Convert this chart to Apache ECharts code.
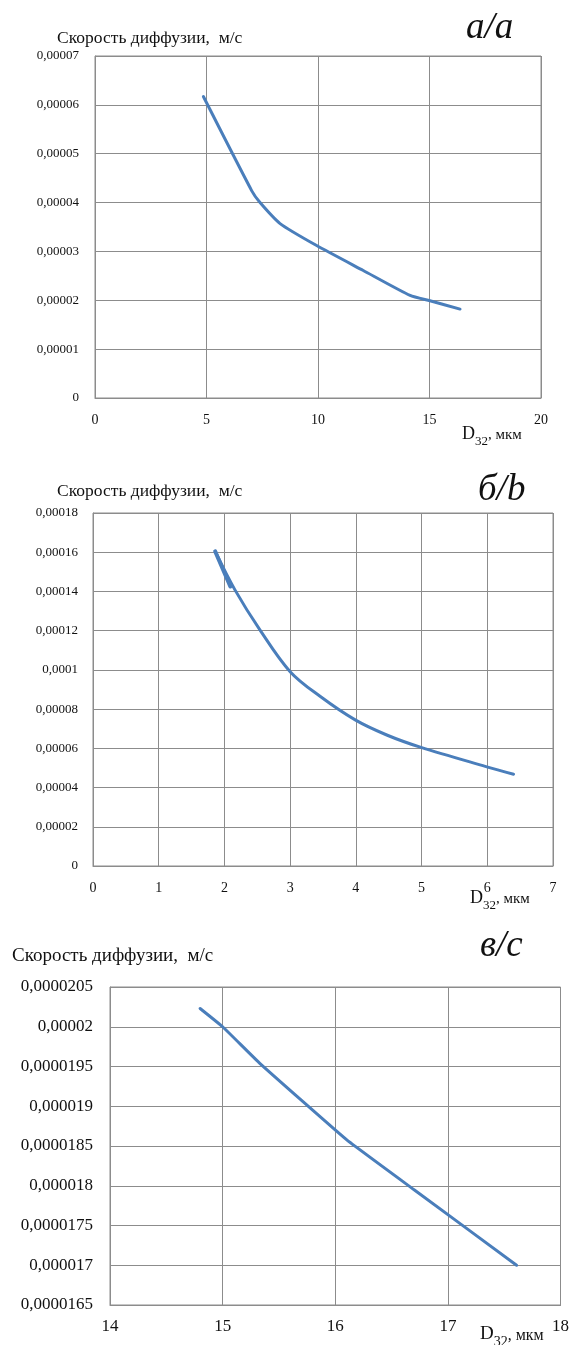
<!DOCTYPE html>
<html>
<head>
<meta charset="utf-8">
<script src="https://cdn.jsdelivr.net/npm/echarts@6/dist/echarts.min.js"></script>
<style>
  html, body { margin: 0; padding: 0; background: #fff; }
  #chart { width: 572px; height: 1345px; }
</style>
</head>
<body>
<div id="chart"></div>
<script>
// Panel а: diffusion rate vs Sauter diameter D32 (0–20 µm)
const xA = [4.86, 7.03, 7.4, 8.3, 9.94, 12.03, 14.13, 15.02, 16.37];
const yA = [0.0000617, 0.0000424, 0.00004, 0.0000357, 0.0000312, 0.0000261, 0.000021, 0.0000199, 0.0000182];
const yTicksA = ['0', '0,00001', '0,00002', '0,00003', '0,00004', '0,00005', '0,00006', '0,00007'];

// Panel б: D32 in 0–7 µm (main curve plus the short overlapping start segment)
const xB = [1.86, 2.16, 2.54, 3.0, 3.46, 3.99, 4.47, 4.98, 5.98, 6.40];
const yB = [0.0001604, 0.0001408, 0.0001204, 0.0000991, 0.0000864, 0.0000745, 0.0000668, 0.0000606, 0.0000507, 0.0000468];
const xB2 = [1.86, 2.09];
const yB2 = [0.0001604, 0.0001425];
const yTicksB = ['0', '0,00002', '0,00004', '0,00006', '0,00008', '0,0001', '0,00012', '0,00014', '0,00016', '0,00018'];

// Panel в: D32 in 14–18 µm
const xC = [14.8, 15.0, 15.33, 16.1, 16.7, 17.61];
const yC = [0.00002023, 0.00002, 0.00001954, 0.00001858, 0.00001795, 0.000017];
const yTicksC = ['0,0000165', '0,000017', '0,0000175', '0,000018', '0,0000185', '0,000019', '0,0000195', '0,00002', '0,0000205'];

const yTitle = 'Скорость диффузии,  м/с';
const panelTags = ['а/a', 'б/b', 'в/c'];

const serif = '"Liberation Serif", "Times New Roman", serif';
const gridColor = '#8c8c8c';
const lineColor = '#4a7ebb';

function pairs(xs, ys) { return xs.map((x, i) => [x, ys[i]]); }

function xAxisCfg(gridIndex, min, max, interval, fs, margin) {
  return {
    type: 'value', gridIndex, min, max, interval,
    axisLine: { show: true, lineStyle: { color: gridColor } },
    axisTick: { show: false },
    splitLine: { show: true, lineStyle: { color: gridColor, width: 1 } },
    axisLabel: { color: '#111', fontFamily: serif, fontSize: fs, margin, showMaxLabel: true, showMinLabel: true }
  };
}
function yAxisCfg(gridIndex, min, max, interval, labels, fs, margin) {
  return {
    type: 'value', gridIndex, min, max, interval,
    axisLine: { show: true, lineStyle: { color: gridColor } },
    axisTick: { show: false },
    splitLine: { show: true, lineStyle: { color: gridColor, width: 1 } },
    axisLabel: {
      color: '#111', fontFamily: serif, fontSize: fs, margin,
      formatter: (v, i) => labels[i] !== undefined ? labels[i] : ''
    }
  };
}
function lineSeries(idx, data, smooth, width) {
  return {
    type: 'line', xAxisIndex: idx, yAxisIndex: idx, data, smooth,
    showSymbol: false, symbol: 'none',
    lineStyle: { color: lineColor, width: width || 3, cap: 'round', join: 'round' }
  };
}
function textEl(x, y, text, fs, style) {
  return {
    type: 'text', left: x, top: y,
    style: Object.assign({ text, fontFamily: serif, fontSize: fs, fill: '#111' }, style || {})
  };
}
function d32Label(x, y, fs) {
  return {
    type: 'text', left: x, top: y,
    style: {
      text: '{d|D}{s|32}{n|, мкм}',
      fontFamily: serif, fill: '#111',
      rich: {
        d: { fontFamily: serif, fontSize: fs + 2, fill: '#111', verticalAlign: 'bottom' },
        s: { fontFamily: serif, fontSize: fs - 3, fill: '#111', verticalAlign: 'bottom', padding: [0, 0, -5, 0] },
        n: { fontFamily: serif, fontSize: fs - 1, fill: '#111', verticalAlign: 'bottom' }
      }
    }
  };
}

const chart = echarts.init(document.getElementById('chart'), null, { renderer: 'canvas' });
chart.setOption({
  animation: false,
  backgroundColor: '#fff',
  grid: [
    { left: 95, top: 56, width: 446, height: 342, show: true, borderColor: gridColor, borderWidth: 1 },
    { left: 93, top: 513, width: 460, height: 353, show: true, borderColor: gridColor, borderWidth: 1 },
    { left: 110, top: 987, width: 452, height: 318, show: true, borderColor: gridColor, borderWidth: 1 }
  ],
  xAxis: [
    xAxisCfg(0, 0, 20, 5, 14, 15),
    xAxisCfg(1, 0, 7, 1, 14, 15),
    xAxisCfg(2, 14, 18, 1, 17, 13)
  ],
  yAxis: [
    yAxisCfg(0, 0, 0.00007, 0.00001, yTicksA, 13, 16),
    yAxisCfg(1, 0, 0.00018, 0.00002, yTicksB, 13, 15),
    yAxisCfg(2, 0.0000165, 0.0000205, 0.0000005, yTicksC, 17, 17)
  ],
  series: [
    lineSeries(0, pairs(xA, yA), 0.2),
    lineSeries(1, pairs(xB, yB), 0.35),
    lineSeries(1, pairs(xB2, yB2), 0, 4),
    lineSeries(2, pairs(xC, yC), 0.1)
  ],
  graphic: [
    textEl(57, 29, yTitle, 17.5),
    textEl(57, 482, yTitle, 17.5),
    textEl(12, 947, yTitle, 19),
    textEl(466, 10, panelTags[0], 37, { fontStyle: 'italic' }),
    textEl(478, 472, panelTags[1], 37, { fontStyle: 'italic' }),
    textEl(480, 928, panelTags[2], 37, { fontStyle: 'italic' }),
    d32Label(462, 425, 16),
    d32Label(470, 889, 16),
    d32Label(480, 1325, 17)
  ]
});
</script>
</body>
</html>
